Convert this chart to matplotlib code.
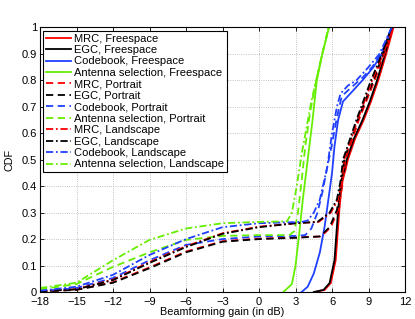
import numpy as np
import matplotlib
matplotlib.use("Agg")
import matplotlib.pyplot as plt

plt.rcParams['font.family'] = ['Liberation Sans', 'DejaVu Sans']

# ---- data: beamforming gain (dB) vs CDF ----
# Freespace (solid)
mrc_free_x = [4.6, 5.4, 5.9, 6.3, 6.6, 6.75, 6.9, 7.1, 7.3, 7.9, 8.6, 9.2, 9.8, 10.45, 11.05]
mrc_free_y = [0.0, 0.008, 0.034, 0.12, 0.31, 0.38, 0.43, 0.46, 0.5, 0.58, 0.65, 0.72, 0.8, 0.9, 1.0]
egc_free_x = [4.5, 5.3, 5.8, 6.2, 6.5, 6.65, 6.8, 7.0, 7.2, 7.8, 8.5, 9.1, 9.7, 10.35, 10.95]
egc_free_y = [0.0, 0.008, 0.034, 0.12, 0.31, 0.38, 0.43, 0.46, 0.5, 0.58, 0.65, 0.72, 0.8, 0.9, 1.0]
cb_free_x = [3.5, 4.0, 4.5, 5.0, 5.4, 5.7, 6.0, 6.2, 6.5, 6.9, 7.7, 8.5, 9.4, 10.1, 10.5, 10.9]
cb_free_y = [0.0, 0.02, 0.07, 0.15, 0.25, 0.35, 0.45, 0.55, 0.65, 0.72, 0.76, 0.8, 0.85, 0.9, 0.95, 1.0]
as_free_x = [2.0, 2.7, 3.0, 3.3, 3.6, 4.0, 4.4, 4.75, 5.2, 5.75]
as_free_y = [0.0, 0.03, 0.1, 0.22, 0.35, 0.5, 0.65, 0.8, 0.9, 1.0]

# Portrait (dashed)
mrc_port_x = [-18, -15, -12, -9, -6, -3, 0, 3, 5.1, 5.9, 6.5, 6.75, 6.95, 7.1, 8.2, 9.5, 10.3, 11.0]
mrc_port_y = [0.002, 0.009, 0.037, 0.093, 0.153, 0.192, 0.202, 0.206, 0.21, 0.245, 0.31, 0.375, 0.44, 0.5, 0.65, 0.8, 0.9, 1.0]
egc_port_x = [-18, -15, -12, -9, -6, -3, 0, 3, 5.0, 5.8, 6.4, 6.65, 6.85, 7.0, 8.1, 9.4, 10.2, 10.9]
egc_port_y = [0.002, 0.008, 0.035, 0.09, 0.15, 0.19, 0.2, 0.205, 0.21, 0.245, 0.31, 0.375, 0.44, 0.5, 0.65, 0.8, 0.9, 1.0]
cb_port_x = [-18, -15, -12, -9, -6, -3, 0, 3, 3.8, 4.3, 4.8, 5.2, 5.6, 6.0, 6.4, 6.8, 7.5, 8.5, 9.3, 10.0, 10.5, 10.9]
cb_port_y = [0.003, 0.015, 0.053, 0.12, 0.178, 0.2, 0.21, 0.212, 0.215, 0.24, 0.3, 0.375, 0.47, 0.56, 0.66, 0.74, 0.77, 0.81, 0.85, 0.9, 0.95, 1.0]
as_port_x = [-18, -15, -12, -9, -6, -3, 0, 2.5, 2.9, 3.2, 3.5, 3.8, 4.2, 4.7, 5.2, 5.75]
as_port_y = [0.01, 0.03, 0.095, 0.15, 0.197, 0.212, 0.215, 0.215, 0.23, 0.3, 0.42, 0.55, 0.68, 0.8, 0.9, 1.0]

# Landscape (dash-dot)
mrc_land_x = [-18, -15, -12, -9, -6, -3, 0, 3, 4.9, 5.9, 6.5, 6.8, 7.0, 8.1, 9.3, 10.2, 11.0]
mrc_land_y = [0.003, 0.011, 0.047, 0.113, 0.173, 0.222, 0.247, 0.26, 0.265, 0.3, 0.35, 0.42, 0.5, 0.65, 0.8, 0.9, 1.0]
egc_land_x = [-18, -15, -12, -9, -6, -3, 0, 3, 4.8, 5.8, 6.4, 6.7, 6.9, 8.0, 9.2, 10.1, 10.9]
egc_land_y = [0.003, 0.01, 0.045, 0.11, 0.17, 0.22, 0.245, 0.26, 0.265, 0.3, 0.35, 0.42, 0.5, 0.65, 0.8, 0.9, 1.0]
cb_land_x = [-18, -15, -12, -9, -6, -3, 0, 3.5, 4.0, 4.5, 5.0, 5.6, 6.0, 6.4, 6.7, 7.3, 8.0, 9.0, 9.9, 10.4, 10.9]
cb_land_y = [0.005, 0.02, 0.065, 0.14, 0.2, 0.245, 0.26, 0.265, 0.27, 0.3, 0.35, 0.47, 0.6, 0.7, 0.75, 0.78, 0.8, 0.85, 0.9, 0.95, 1.0]
as_land_x = [-18, -15, -12, -9, -6, -3, 0, 2.3, 2.7, 3.1, 3.5, 3.9, 4.3, 4.7, 5.2, 5.7]
as_land_y = [0.015, 0.035, 0.12, 0.197, 0.24, 0.26, 0.265, 0.267, 0.3, 0.4, 0.52, 0.62, 0.72, 0.8, 0.9, 1.0]

red = '#ff0000'
black = '#000000'
blue = '#2040ff'
green = '#66ee00'

curves = [
    (mrc_free_x, mrc_free_y, red, '-', 'MRC, Freespace'),
    (egc_free_x, egc_free_y, black, '-', 'EGC, Freespace'),
    (cb_free_x, cb_free_y, blue, '-', 'Codebook, Freespace'),
    (as_free_x, as_free_y, green, '-', 'Antenna selection, Freespace'),
    (mrc_port_x, mrc_port_y, red, '--', 'MRC, Portrait'),
    (egc_port_x, egc_port_y, black, '--', 'EGC, Portrait'),
    (cb_port_x, cb_port_y, blue, '--', 'Codebook, Portrait'),
    (as_port_x, as_port_y, green, '--', 'Antenna selection, Portrait'),
    (mrc_land_x, mrc_land_y, red, '-.', 'MRC, Landscape'),
    (egc_land_x, egc_land_y, black, '-.', 'EGC, Landscape'),
    (cb_land_x, cb_land_y, blue, '-.', 'Codebook, Landscape'),
    (as_land_x, as_land_y, green, '-.', 'Antenna selection, Landscape'),
]

fig = plt.figure(figsize=(4.15, 3.19), dpi=100)
ax = fig.add_axes([0.0964, 0.0846, 0.8796, 0.8294])

for x, y, c, ls, lab in curves:
    if ls == '--':
        ax.plot(x, y, color=c, linestyle=(0, (4, 2.5)), lw=1.3, label=lab)
    elif ls == '-.':
        ax.plot(x, y, color=c, linestyle=(0, (4, 1.5, 1, 1.5)), lw=1.3, label=lab)
    else:
        ax.plot(x, y, color=c, linestyle='-', lw=1.3, label=lab)

ax.set_xlim(-18, 12)
ax.set_ylim(0, 1)
ax.set_xticks(np.arange(-18, 13, 3))
ax.set_yticks(np.arange(0, 1.01, 0.1))
ax.set_yticklabels(['0', '0.1', '0.2', '0.3', '0.4', '0.5', '0.6', '0.7', '0.8', '0.9', '1'])
ax.tick_params(direction='in', top=True, right=True, labelsize=8, length=3, width=0.6, pad=2)
ax.tick_params(axis='x', pad=3.5)
ax.grid(True, linestyle=':', color='#b0b0b0', lw=0.6)
for s in ax.spines.values():
    s.set_linewidth(0.8)
ax.set_xlabel('Beamforming gain (in dB)', fontsize=7.8, labelpad=0)
ax.set_ylabel('CDF', fontsize=7.8, labelpad=5)

leg = ax.legend(loc='upper left', fontsize=8, frameon=True, fancybox=False,
                framealpha=1, edgecolor='black', borderaxespad=0.3,
                handlelength=2.2, handletextpad=0.3, labelspacing=0.13, borderpad=0.25)
leg.get_frame().set_linewidth(0.8)

fig.savefig('out.png', dpi=100)
